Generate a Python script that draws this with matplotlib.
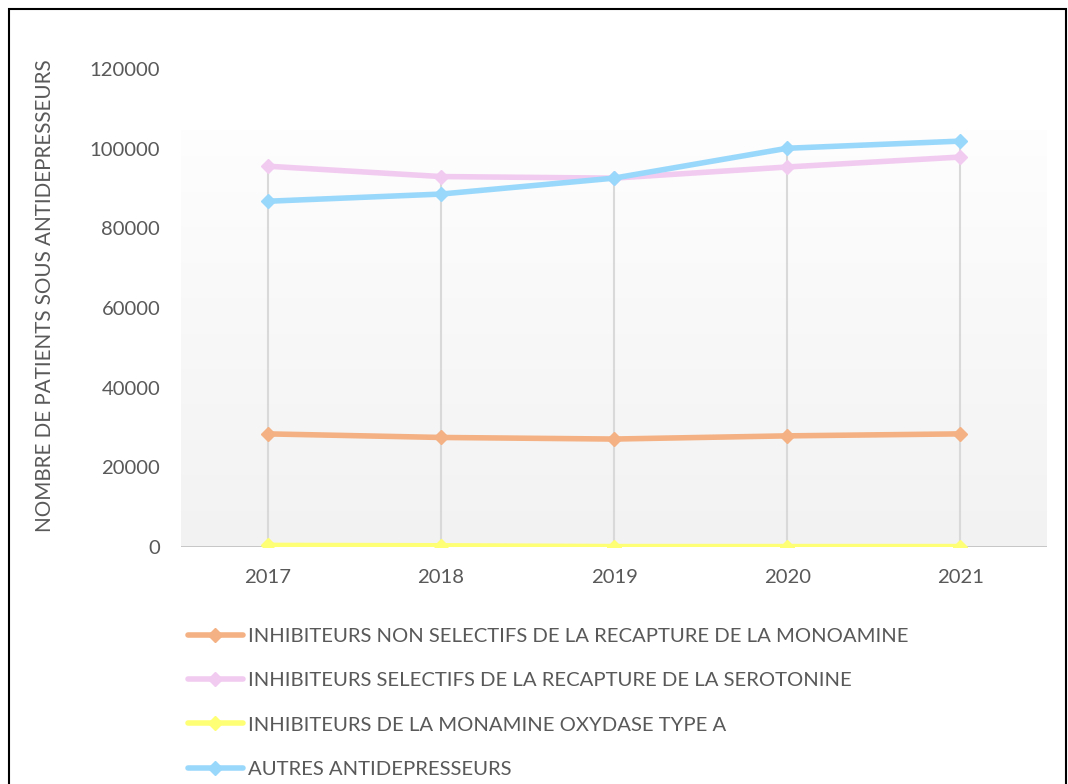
import numpy as np
import matplotlib.pyplot as plt
from matplotlib.patches import Rectangle

plt.rcParams['font.family'] = ['Lato', 'DejaVu Sans']

years = ['2017', '2018', '2019', '2020', '2021']
non_selectifs = [28400, 27500, 27100, 27900, 28400]
selectifs = [95600, 93000, 92600, 95400, 97900]
imao_a = [400, 300, 100, 100, 100]
autres = [86800, 88600, 92600, 100100, 101900]

series = [
    ('INHIBITEURS NON SELECTIFS DE LA RECAPTURE DE LA MONOAMINE', non_selectifs, '#f4b183'),
    ('INHIBITEURS SELECTIFS DE LA RECAPTURE DE LA SEROTONINE', selectifs, '#f2cbf0'),
    ('INHIBITEURS DE LA MONAMINE OXYDASE TYPE A', imao_a, '#ffff75'),
    ('AUTRES ANTIDEPRESSEURS', autres, '#9ad8fb'),
]

txt = '#595959'
fs = 14.6
W, H = 1068, 784
fig = plt.figure(figsize=(W / 100, H / 100), dpi=100)
ax = fig.add_axes([181 / W, 1 - 547 / H, (1047 - 181) / W, (547 - 69) / H])

x = np.arange(len(years))
ax.set_xlim(-0.5, len(years) - 0.5)
ax.set_ylim(0, 120000)

# plot area: light vertical gradient from grey at the bottom to white
grad = np.linspace(0.949, 0.995, 256).reshape(-1, 1)
ax.imshow(np.dstack([grad, grad, grad]), extent=(-0.5, len(years) - 0.5, 0, 104500),
          origin='lower', aspect='auto', zorder=0)

# drop lines from the highest point of each year down to the axis
tops = np.max([s[1] for s in series], axis=0)
ax.vlines(x, 0, tops, color='#d9d9d9', lw=1.5, zorder=1)

for name, vals, col in series:
    ax.plot(x, vals, color=col, lw=4, marker='D', ms=7, label=name, zorder=3,
            solid_capstyle='round')

ax.axhline(0, color='#bfbfbf', lw=1.2, zorder=2)

for s in ax.spines.values():
    s.set_visible(False)
ax.set_xticks(x, years)
ax.set_yticks(np.arange(0, 120001, 20000))
ax.tick_params(length=0, labelsize=fs, labelcolor=txt)
ax.tick_params(axis='y', pad=15)
ax.tick_params(axis='x', pad=16)

fig.text(45 / W, 1 - 296 / H, 'NOMBRE DE PATIENTS SOUS ANTIDEPRESSEURS', rotation=90,
         ha='center', va='center', fontsize=14.9, color=txt)

fig.legend(loc='upper left', bbox_to_anchor=(188 / W, 1 - 628 / H), frameon=False,
           fontsize=fs, labelcolor=txt, handlelength=2.7, handletextpad=0.25,
           labelspacing=1.33, borderaxespad=0, borderpad=0)

# outer frame
fig.patches.append(Rectangle((9 / W, -0.05), (1066 - 9) / W, 1.05 - 9 / H,
                             transform=fig.transFigure, fill=False, ec='black', lw=1.5))

fig.savefig('out.png', dpi=100)
